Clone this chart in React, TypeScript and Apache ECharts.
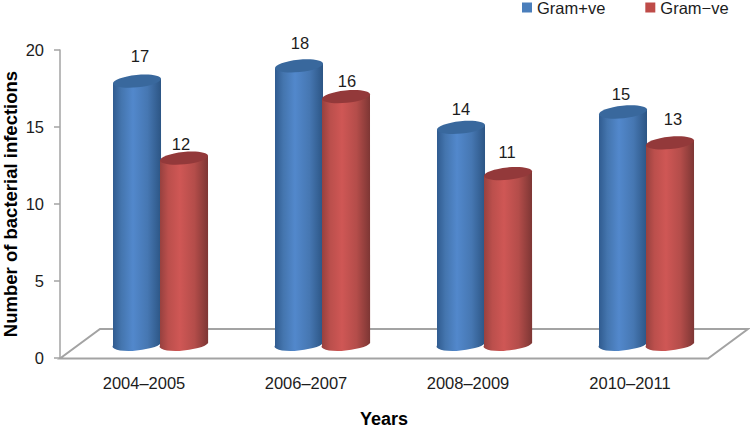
import React, { useEffect, useRef } from "react";
import * as echarts from "echarts";

const categories = ["2004–2005", "2006–2007", "2008–2009", "2010–2011"];
const gramPositive = [17, 18, 14, 15];
const gramNegative = [12, 16, 11, 13];
const yTicks = { min: 0, max: 20, interval: 5 };

const labelNudgePositive = [[3, -25], [1, -23], [0, -18], [-2, -18]];
const labelNudgeNegative = [[-3, -14], [1, -16], [-1, -22], [3, -24]];

const FONT = '"Liberation Sans", Arial, sans-serif';
const TEXT = "#1c1c1c";
const GRAY = "#a3a3a3";
const RADIUS = 24;
const RY = 6.2;
const TILT = 2.4;
const DEPTH = 15;

function cylinder(offset: number, stops: [number, string][], topColor: string, nudges: number[][]) {
  return (params: any, api: any) => {
    const idx = params.dataIndex;
    const [bandX, topY] = api.coord([api.value(0), api.value(1)]);
    const [, zeroY] = api.coord([api.value(0), 0]);
    const cx = bandX + offset;
    const top = topY - DEPTH;
    const bottom = zeroY - DEPTH;
    const l = cx - RADIUS;
    const r = cx + RADIUS;
    const rx = Math.hypot(RADIUS, TILT);
    const angle = Math.atan2(TILT, RADIUS);
    const rotDeg = (-angle * 180) / Math.PI;
    const body = `M ${l} ${top + TILT} L ${l} ${bottom + TILT} A ${rx} ${RY} ${rotDeg} 0 0 ${r} ${bottom - TILT} L ${r} ${top - TILT} Z`;
    const nudge = nudges[idx];
    return {
      type: "group",
      children: [
        {
          type: "path",
          shape: { pathData: body },
          style: { fill: new echarts.graphic.LinearGradient(0, 0, 1, 0, stops.map(([o, c]) => ({ offset: o, color: c }))) },
        },
        {
          type: "ellipse",
          x: cx,
          y: top,
          rotation: angle,
          shape: { cx: 0, cy: 0, rx, ry: RY },
          style: { fill: topColor },
        },
        {
          type: "text",
          x: cx + nudge[0],
          y: top + nudge[1],
          style: {
            text: String(api.value(1)),
            fill: TEXT,
            fontFamily: FONT,
            fontSize: 16.5,
            align: "center",
            verticalAlign: "middle",
          },
        },
      ],
    };
  };
}

export default function App() {
  const ref = useRef<HTMLDivElement>(null);
  useEffect(() => {
    const chart = echarts.init(ref.current!, undefined, { renderer: "svg" });
    chart.setOption({
      animation: false,
      backgroundColor: "#ffffff",
      textStyle: { fontFamily: FONT },
      legend: {
        left: 522,
        top: -1,
        padding: 0,
        itemWidth: 10,
        itemHeight: 10,
        itemGap: 40,
        icon: "rect",
        textStyle: { fontFamily: FONT, fontSize: 16.5, color: TEXT, padding: [0, 0, 0, 0] },
        data: [
          { name: "Gram+ve", itemStyle: { color: "#4a7ebb" } },
          { name: "Gram−ve", itemStyle: { color: "#be4b48" } },
        ],
      },
      graphic: [
        {
          type: "polygon",
          z: 0,
          shape: { points: [[60, 358.5], [708, 358.5], [748, 329], [100, 329]] },
          style: { fill: "none", stroke: GRAY, lineWidth: 2 },
        },
      ],
      grid: { left: 60, right: 42, top: 50, bottom: 71, outerBoundsMode: "none" },
      xAxis: {
        type: "category",
        data: categories,
        name: "Years",
        nameLocation: "middle",
        nameGap: 54,
        nameTextStyle: { fontFamily: FONT, fontSize: 18, lineHeight: 14, fontWeight: "bold", color: "#000" },
        axisLine: { show: false },
        axisTick: { show: false },
        axisLabel: { fontFamily: FONT, fontSize: 16.5, color: TEXT, margin: 16, padding: [0, 0, 0, 6] },
      },
      yAxis: {
        type: "value",
        min: yTicks.min,
        max: yTicks.max,
        interval: yTicks.interval,
        name: "Number of bacterial infections",
        nameLocation: "middle",
        nameRotate: 90,
        nameGap: 42,
        nameMoveOverlap: false,
        nameTextStyle: { fontFamily: FONT, fontSize: 18.5, lineHeight: 16, fontWeight: "bold", color: "#000" },
        splitLine: { show: false },
        axisLine: { show: true, lineStyle: { color: GRAY, width: 1.5 } },
        axisTick: { show: true, length: 6, lineStyle: { color: GRAY, width: 1.5 } },
        axisLabel: { fontFamily: FONT, fontSize: 16.5, color: TEXT, margin: 16, padding: [3, 0, 0, 0] },
      },
      series: [
        {
          name: "Gram+ve",
          type: "custom",
          clip: false,
          itemStyle: { color: "#4a7ebb" },
          encode: { x: 0, y: 1 },
          data: gramPositive.map((v, i) => [categories[i], v]),
          renderItem: cylinder(
            -4,
            [[0, "#2f5a8e"], [0.18, "#4475ae"], [0.42, "#5288cc"], [0.72, "#4677b2"], [1, "#2c5584"]],
            "#39689d",
            labelNudgePositive
          ),
        },
        {
          name: "Gram−ve",
          type: "custom",
          clip: false,
          itemStyle: { color: "#be4b48" },
          encode: { x: 0, y: 1 },
          data: gramNegative.map((v, i) => [categories[i], v]),
          renderItem: cylinder(
            43,
            [[0, "#95403e"], [0.18, "#bb4f4c"], [0.42, "#cf5755"], [0.72, "#b44d4a"], [1, "#7d3634"]],
            "#93393a",
            labelNudgeNegative
          ),
        },
      ],
    });
    return () => chart.dispose();
  }, []);
  return <div ref={ref} style={{ position: "absolute", left: 0, top: 0, width: 750, height: 429 }} />;
}
